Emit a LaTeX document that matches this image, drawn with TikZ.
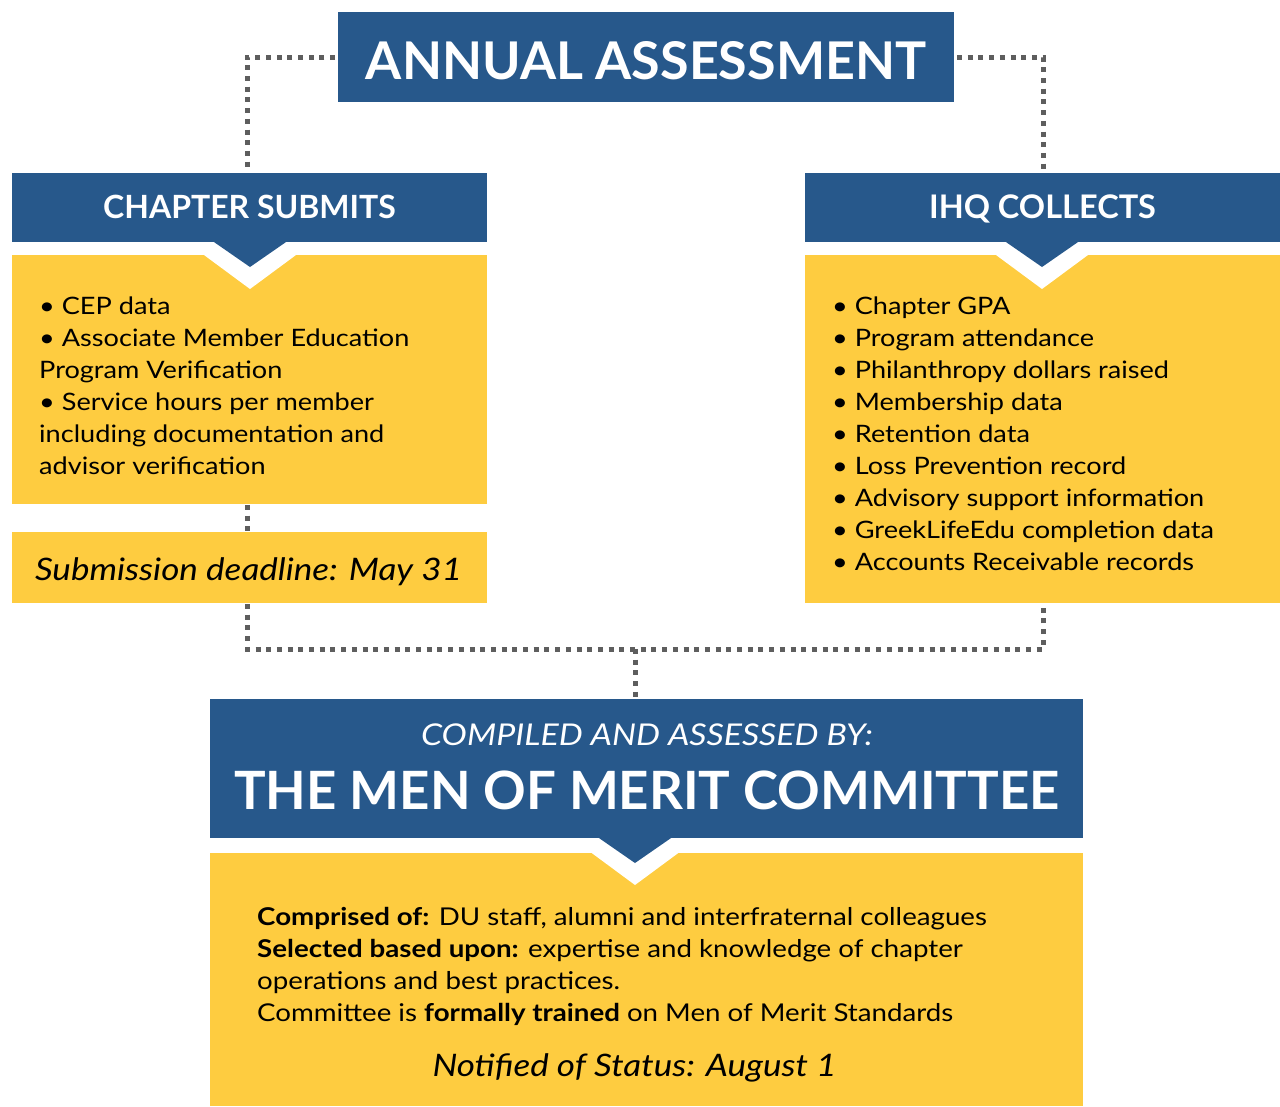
\documentclass[tikz,border=0pt]{standalone}
\usepackage{fontspec}
\setmainfont{Lato}
\newfontfamily\widefont{Lato}[FakeStretch=1.13]
\definecolor{meritblue}{HTML}{27588B}
\definecolor{meritgold}{HTML}{FECC40}
\definecolor{dotgray}{HTML}{5E5E5E}

\begin{document}
\begin{tikzpicture}[x=1pt,y=-1pt,
  bluebox/.style={fill=meritblue, draw=none, inner sep=0pt, outer sep=0pt},
  goldbox/.style={fill=meritgold, draw=none, inner sep=0pt, outer sep=0pt},
  link/.style={draw=dotgray, line width=5pt, dash pattern=on 5pt off 5.7pt},
  headtxt/.style={text=white, anchor=base, inner sep=0pt,
    font=\bfseries\fontsize{32.5}{38}\selectfont},
  bodytxt/.style={text=black, anchor=base west, inner sep=0pt,
    font=\widefont\fontsize{24}{32}\selectfont},
  committxt/.style={bodytxt, font=\widefont\fontsize{24.5}{32}\selectfont},
  datetxt/.style={text=black, anchor=base, inner sep=0pt,
    font=\widefont\itshape\fontsize{31}{36}\selectfont},
  notch/.pic={
    \fill[white] (-46,13) -- (46,13) -- (0,47) -- cycle;
    \fill[meritblue] (-37.5,-1) -- (37.5,-1) -- (0,25) -- cycle;
  }
]
\useasboundingbox[fill=white] (0,0) rectangle (1280,1106);

% ---- boxes ----
\node[bluebox, minimum width=616pt, minimum height=90pt] (title) at (646,57) {};
\node[bluebox, minimum width=475pt, minimum height=69pt] (chap) at (249.5,207.5) {};
\node[bluebox, minimum width=475pt, minimum height=69pt] (ihq) at (1042.5,207.5) {};
\node[goldbox, minimum width=475pt, minimum height=249pt] (lyel) at (249.5,379.5) {};
\node[goldbox, minimum width=475pt, minimum height=71pt] (dead) at (249.5,567.5) {};
\node[goldbox, minimum width=475pt, minimum height=348pt] (ryel) at (1042.5,429) {};
\node[bluebox, minimum width=873pt, minimum height=139pt] (comm) at (646.5,768.5) {};
\node[goldbox, minimum width=873pt, minimum height=253pt] (byel) at (646.5,979.5) {};

% ---- chevrons under the blue headers ----
\pic at (250,242) {notch};
\pic at (1042,242) {notch};
\pic at (635,838) {notch};

% ---- dotted connectors ----
\coordinate (busL) at (247,649);
\coordinate (busR) at (1043,649);
\coordinate (drop) at (635,649);
\draw[link, shorten <=3pt, shorten >=3pt] (title.west) -| (247,173);
\draw[link, shorten <=3pt, shorten >=3pt] (title.east) -| (1043,173);
\draw[link] (247,505) -- (247,532);
\draw[link] (247,604) -- (busL) -- (busR) -- (1043,604);
\draw[link] (drop) -- (drop |- comm.north);

% ---- headings ----
\node[headtxt, font=\bfseries\fontsize{52}{58}\selectfont] (titletxt) at (646,79) {ANNUAL ASSESSMENT};
\node[headtxt, font=\bfseries\fontsize{32}{38}\selectfont] (chaptxt) at (249.5,218) {CHAPTER SUBMITS};
\node[headtxt] (ihqtxt) at (1042.5,218) {IHQ COLLECTS};
\node[headtxt, font=\widefont\itshape\fontsize{30}{34}\selectfont] (bytxt) at (647,745) {COMPILED AND ASSESSED BY:};
\node[headtxt, font=\bfseries\fontsize{52.8}{60}\selectfont] (committeetxt) at (647,809) {THE MEN OF MERIT COMMITTEE};

% ---- chapter submits list ----
\foreach \t [count=\i from 0] in {%
  {• CEP data},
  {• Associate Member Education},
  {Program Verification},
  {• Service hours per member},
  {including documentation and},
  {advisor verification}}
  \node[bodytxt] (lline\i) at (39,314+32*\i) {\t};

\node[datetxt] (deadtxt) at (248.5,580) {Submission deadline: May 31};

% ---- IHQ collects list ----
\foreach \t [count=\i from 0] in {%
  {• Chapter GPA},
  {• Program attendance},
  {• Philanthropy dollars raised},
  {• Membership data},
  {• Retention data},
  {• Loss Prevention record},
  {• Advisory support information},
  {• GreekLifeEdu completion data},
  {• Accounts Receivable records}}
  \node[bodytxt] (rline\i) at (832,314+32*\i) {\t};

% ---- committee details ----
\node[committxt] (c1) at (257,925) {\textbf{Comprised of:} DU staff, alumni and interfraternal colleagues};
\node[committxt] (c2) at (257,957) {\textbf{Selected based upon:} expertise and knowledge of chapter};
\node[committxt] (c3) at (257,989) {operations and best practices.};
\node[committxt] (c4) at (257,1021) {Committee is \textbf{formally trained} on Men of Merit Standards};
\node[datetxt] (notified) at (634.5,1076) {Notified of Status: August 1};
\end{tikzpicture}
\end{document}
